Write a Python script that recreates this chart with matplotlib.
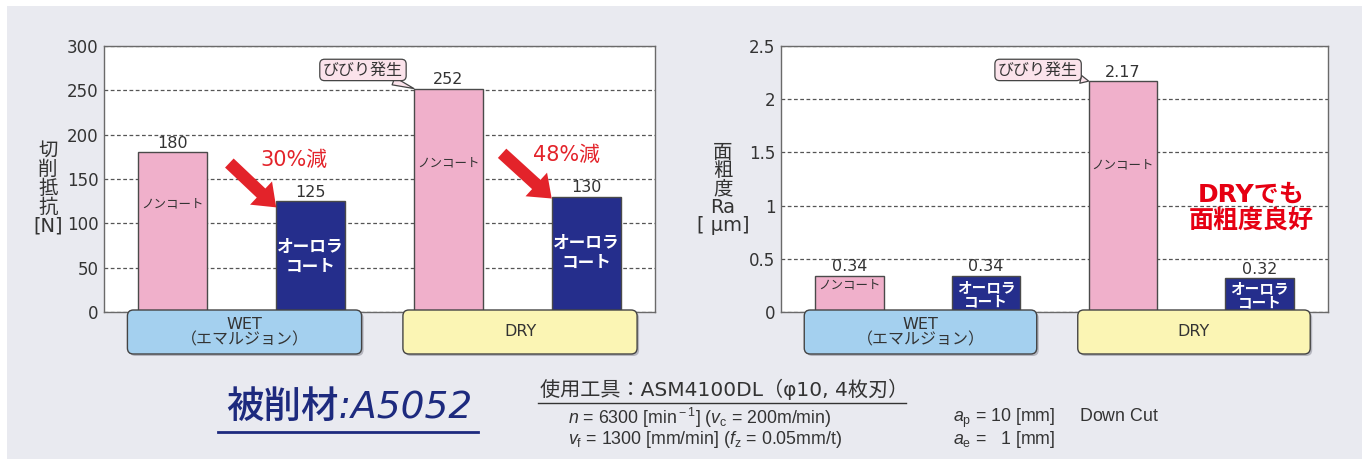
import matplotlib.pyplot as plt
from matplotlib.patches import FancyBboxPatch, Rectangle
import numpy as np

plt.rcParams['font.family'] = ['DejaVu Sans', 'Noto Sans CJK JP']
plt.rcParams['mathtext.fontset'] = 'custom'
plt.rcParams['mathtext.rm'] = 'Liberation Sans'
plt.rcParams['mathtext.it'] = 'Liberation Sans:italic'

# data
groups = ['WET\n（エマルジョン）', 'DRY']
bar_kind = ['non', 'aurora', 'non', 'aurora']
force = [180, 125, 252, 130]
rough = [0.34, 0.34, 2.17, 0.32]
force_ticks = [0, 50, 100, 150, 200, 250, 300]
rough_ticks = [0, 0.5, 1, 1.5, 2, 2.5]
rough_ticklabels = ['0', '0.5', '1', '1.5', '2', '2.5']
reduction = ['30%減', '48%減']

W, H = 1362, 459
BG = '#e9eaf0'
PINK = '#f0b0cb'
NAVY = '#252e8c'
RED = '#e3232a'
TXT = '#333333'

fig = plt.figure(figsize=(W / 100, H / 100), dpi=100)
fig.set_facecolor('white')
fig.patches.append(Rectangle((7 / W, 0), 1, 1 - 6 / H, transform=fig.transFigure,
                             facecolor=BG, edgecolor='none', zorder=-10))


def px(x0, y0, x1, y1):
    return [x0 / W, 1 - y1 / H, (x1 - x0) / W, (y1 - y0) / H]


ax1 = fig.add_axes(px(104, 46, 655, 312))
ax2 = fig.add_axes(px(781, 46, 1328, 312))
over = fig.add_axes([0, 0, 1, 1], zorder=5)
over.set_xlim(0, W)
over.set_ylim(H, 0)
over.axis('off')
over.patch.set_alpha(0)

x = np.arange(4)
colors = [PINK if k == 'non' else NAVY for k in bar_kind]


def setup(ax, vals, ticks, ticklabels, top):
    ax.bar(x, vals, width=0.5, color=colors, edgecolor='#4a4a4a', linewidth=1, zorder=3)
    ax.set_xlim(-0.5, 3.5)
    ax.set_ylim(0, top)
    ax.set_yticks(ticks)
    ax.set_yticklabels(ticklabels, fontsize=12, color=TXT)
    ax.set_xticks([])
    ax.tick_params(axis='y', length=0, pad=4)
    ax.yaxis.grid(True, linestyle=(0, (3, 2)), color='#555555', linewidth=0.9, zorder=1)
    for s in ax.spines.values():
        s.set_color('#6a6a6a')
        s.set_linewidth(1)
    for xi, v in zip(x, vals):
        ax.annotate(str(v), (xi, v), xytext=(0, 1), textcoords='offset points',
                    ha='center', va='bottom', fontsize=11.5, color=TXT)
    # group boxes under the bars
    for g, label in enumerate(groups):
        c = 2 * g + 0.52
        x0 = ax.transData.transform((c - 0.85, 0))[0]
        x1 = ax.transData.transform((c + 0.85, 0))[0]
        fc = '#a4d0ef' if g == 0 else '#fbf5b4'
        over.add_patch(FancyBboxPatch((x0 + 2, 312), x1 - x0, 44,
                                      boxstyle='round,pad=0,rounding_size=6',
                                      facecolor='#b4b5be', edgecolor='none'))
        over.add_patch(FancyBboxPatch((x0, 310), x1 - x0, 44,
                                      boxstyle='round,pad=0,rounding_size=6',
                                      facecolor=fc, edgecolor='#444444', linewidth=1))
        over.text((x0 + x1) / 2, 332, label, ha='center', va='center',
                  fontsize=11.5, color=TXT, linespacing=1.05)
    # callout
    ax.annotate('びびり発生', xy=(1.75, vals[2]), xytext=(1.38, top * 0.91),
                ha='center', va='center', fontsize=11.5, color=TXT,
                bbox=dict(boxstyle='round,pad=0.2,rounding_size=0.3', fc='#fbe3eb',
                          ec='#444444', lw=0.9),
                arrowprops=dict(arrowstyle='wedge,tail_width=0.5,shrink_factor=0.5',
                                fc='#fbe3eb', ec='#444444', lw=0.9, shrinkA=0, shrinkB=0),
                zorder=6)


setup(ax1, force, force_ticks, [str(t) for t in force_ticks], 300)
setup(ax2, rough, rough_ticks, rough_ticklabels, 2.5)

# labels inside bars
for xi, y in zip([0, 2], [122, 168]):
    ax1.text(xi, y, 'ノンコート', ha='center', va='center', fontsize=9, color=TXT, zorder=4)
for xi, y in zip([1, 3], [62, 67]):
    ax1.text(xi, y, 'オーロラ\nコート', ha='center', va='center', fontsize=12,
             color='white', weight='bold', linespacing=1.15, zorder=4)
for xi, y in zip([0, 2], [0.25, 1.38]):
    ax2.text(xi, y, 'ノンコート', ha='center', va='center', fontsize=9, color=TXT, zorder=4)
for xi, y in zip([1, 3], [0.165, 0.155]):
    ax2.text(xi, y, 'オーロラ\nコート', ha='center', va='center', fontsize=10.5,
             color='white', weight='bold', linespacing=0.95, zorder=4)

# reduction arrows
arrow_from = [(0.41, 168), (2.39, 179)]
arrow_to = [(0.75, 118), (2.75, 128)]
text_pos = [(0.88, 171), (2.86, 177)]
for a, b, t, lab in zip(arrow_from, arrow_to, text_pos, reduction):
    ax1.annotate('', xy=b, xytext=a,
                 arrowprops=dict(arrowstyle='simple,head_length=0.75,head_width=1.15,tail_width=0.45',
                                 mutation_scale=20, fc=RED, ec='none', shrinkA=0, shrinkB=0),
                 zorder=5)
    ax1.text(t[0], t[1], lab, ha='center', va='center', fontsize=15, color=RED, zorder=5)

ax2.text(2.94, 0.98, 'DRYでも\n面粗度良好', ha='center', va='center', fontsize=18,
         color='#e60012', weight='bold', linespacing=1.1, zorder=5)

# y axis titles
over.text(48, 188, '切\n削\n抵\n抗\n[N]', ha='center', va='center', fontsize=14,
          color=TXT, linespacing=1.0)
over.text(723, 189, '面\n粗\n度\nRa\n[ μm]', ha='center', va='center', fontsize=14,
          color=TXT, linespacing=0.95)

# footer
over.text(226, 408, '被削材:A5052', ha='left', va='center', fontsize=27, style='italic',
          color='#1d2a7e', weight='medium')
over.plot([218, 478], [432, 432], color='#1d2a7e', lw=2)
over.text(540, 389, '使用工具：ASM4100DL（φ10, 4枚刃）', ha='left', va='center',
          fontsize=14.5, color=TXT)
over.plot([538, 906], [403, 403], color='#333333', lw=1)
pf = dict(ha='left', va='center', fontsize=12.8, color=TXT, family='Liberation Sans')
over.text(568, 418, r'$n$ = 6300 [min$^{\rm -1}$] ($v_{\rm c}$ = 200m/min)', **pf)
over.text(568, 440, r'$v_{\rm f}$ = 1300 [mm/min] ($f_{\rm z}$ = 0.05mm/t)', **pf)
over.text(953, 418, r'$a_{\rm p}$ = 10 [mm]     Down Cut', **pf)
over.text(953, 440, r'$a_{\rm e}$ =   1 [mm]', **pf)

fig.savefig('out.png', dpi=100, facecolor=fig.get_facecolor())
